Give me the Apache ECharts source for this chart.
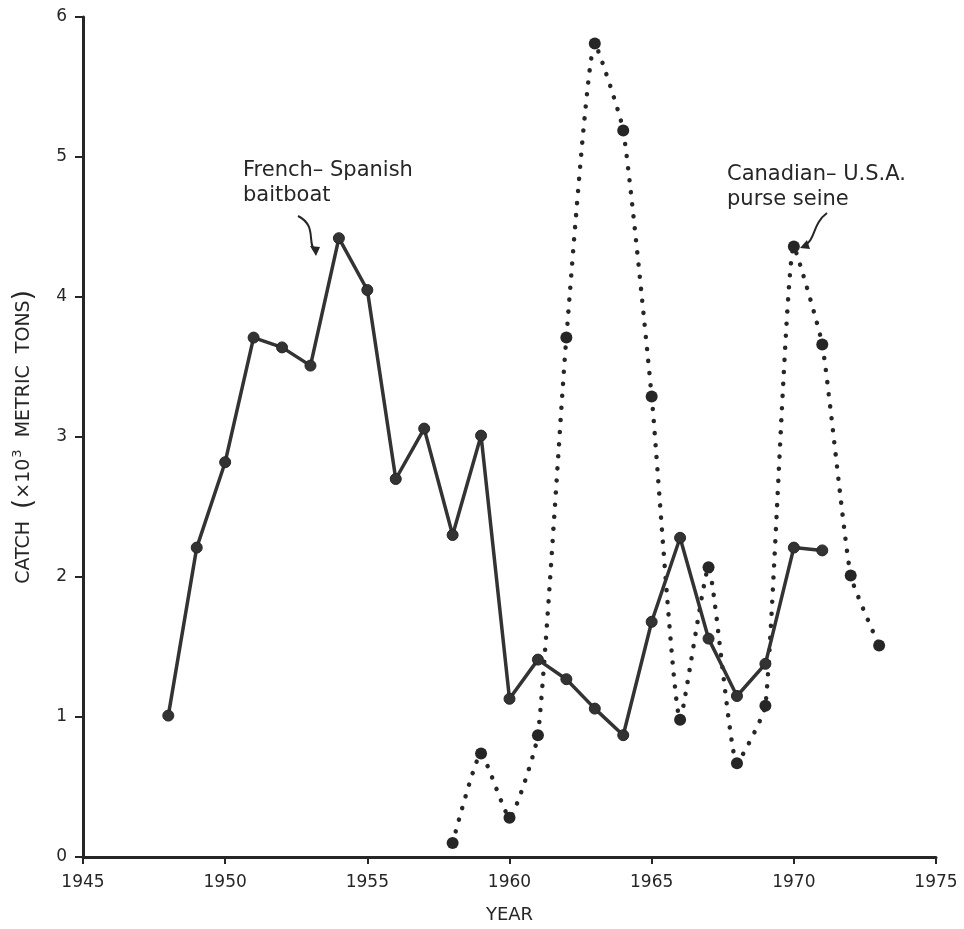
<!DOCTYPE html>
<html>
<head>
<meta charset="utf-8">
<script src="https://cdn.jsdelivr.net/npm/echarts@6/dist/echarts.min.js"></script>
<style>html,body{margin:0;padding:0;background:#fff;}#c{width:964px;height:929px;}</style>
</head>
<body>
<div id="c"></div>
<script>
// Data
const baitYears = [1948,1949,1950,1951,1952,1953,1954,1955,1956,1957,1958,1959,1960,1961,1962,1963,1964,1965,1966,1967,1968,1969,1970,1971];
const baitCatch = [1.01,2.21,2.82,3.71,3.64,3.51,4.42,4.05,2.70,3.06,2.30,3.01,1.13,1.41,1.27,1.06,0.87,1.68,2.28,1.56,1.15,1.38,2.21,2.19];
const seineYears = [1958,1959,1960,1961,1962,1963,1964,1965,1966,1967,1968,1969,1970,1971,1972,1973];
const seineCatch = [0.10,0.74,0.28,0.87,3.71,5.81,5.19,3.29,0.98,2.07,0.67,1.08,4.36,3.66,2.01,1.51];
const xTicks = [1945,1950,1955,1960,1965,1970,1975];
const yTicks = [0,1,2,3,4,5,6];
const baitLabel = ["French– Spanish", "baitboat"];
const seineLabel = ["Canadian– U.S.A.", "purse seine"];

const FONT = "'DejaVu Sans', sans-serif";
const INK = '#262626';

const chart = echarts.init(document.getElementById('c'), null, {renderer:'canvas'});
const option = {
  backgroundColor: '#fff',
  animation: false,
  grid: {left: 83, right: 28, top: 17, bottom: 72},
  xAxis: {
    type: 'value', min: xTicks[0], max: xTicks[xTicks.length-1], interval: 5,
    name: 'YEAR', nameLocation: 'middle', nameGap: 49,
    nameTextStyle: {fontFamily: FONT, fontSize: 18, color: INK},
    axisLine: {show: true, onZero: false, lineStyle: {color: INK, width: 3}},
    axisTick: {show: true, length: 7, lineStyle: {color: INK, width: 2}},
    axisLabel: {fontFamily: FONT, fontSize: 17, color: INK, margin: 17,
      formatter: v => xTicks.includes(v) ? String(v) : ''},
    splitLine: {show: false}
  },
  yAxis: {
    type: 'value', min: yTicks[0], max: yTicks[yTicks.length-1], interval: 1,
    name: '{t|CATCH  }{p|(}{t|×10}{s|3}{t|  METRIC  TONS}{p|)}', nameLocation: 'middle', nameGap: 46, nameRotate: 90,
    nameTextStyle: {fontFamily: FONT, fontSize: 19, color: INK,
      rich: {
        t: {fontFamily: FONT, fontSize: 19, color: INK},
        p: {fontFamily: FONT, fontSize: 26, color: INK},
        s: {fontFamily: FONT, fontSize: 13, color: INK, verticalAlign: 'top', padding: [0,0,8,1]}
      }},
    axisLine: {show: true, lineStyle: {color: INK, width: 3}},
    axisTick: {show: true, length: 8, lineStyle: {color: INK, width: 2}},
    axisLabel: {fontFamily: FONT, fontSize: 17, color: INK, margin: 16},
    splitLine: {show: false}
  },
  series: [
    {
      name: 'French-Spanish baitboat', type: 'line',
      data: baitYears.map((y,i)=>[y, baitCatch[i]]),
      symbol: 'circle', symbolSize: 11,
      itemStyle: {color: '#333', borderColor: INK, borderWidth: 1},
      lineStyle: {color: '#333', width: 3.5},
      z: 3
    },
    {
      name: 'Canadian-U.S.A. purse seine', type: 'line',
      data: seineYears.map((y,i)=>[y, seineCatch[i]]),
      symbol: 'circle', symbolSize: 12,
      smooth: 0.15,
      itemStyle: {color: INK},
      lineStyle: {color: INK, width: 4.5, type: [0.1, 12], cap: 'round'},
      z: 2
    }
  ],
  graphic: [
    {type:'text', left: 243, top: 160, style:{text: baitLabel[0], font: "21px 'DejaVu Sans', sans-serif", fill: INK}},
    {type:'text', left: 243, top: 185, style:{text: baitLabel[1], font: "21px 'DejaVu Sans', sans-serif", fill: INK}},
    {type:'text', left: 727, top: 164, style:{text: seineLabel[0], font: "21px 'DejaVu Sans', sans-serif", fill: INK}},
    {type:'text', left: 727, top: 189, style:{text: seineLabel[1], font: "21px 'DejaVu Sans', sans-serif", fill: INK}},
    {type:'bezierCurve', shape:{x1:298, y1:216, cpx1:318, cpy1:226, cpx2:306, cpy2:244, x2:316, y2:252},
      style:{stroke: INK, lineWidth: 2, fill: null}},
    {type:'polygon', shape:{points:[[316,256],[310,246],[320,247]]}, style:{fill: INK}},
    {type:'bezierCurve', shape:{x1:827, y1:213, cpx1:812, cpy1:224, cpx2:816, cpy2:240, x2:804, y2:246},
      style:{stroke: INK, lineWidth: 2, fill: null}},
    {type:'polygon', shape:{points:[[800,248],[807,240],[810,249]]}, style:{fill: INK}}
  ]
};
chart.setOption(option);
</script>
</body>
</html>
